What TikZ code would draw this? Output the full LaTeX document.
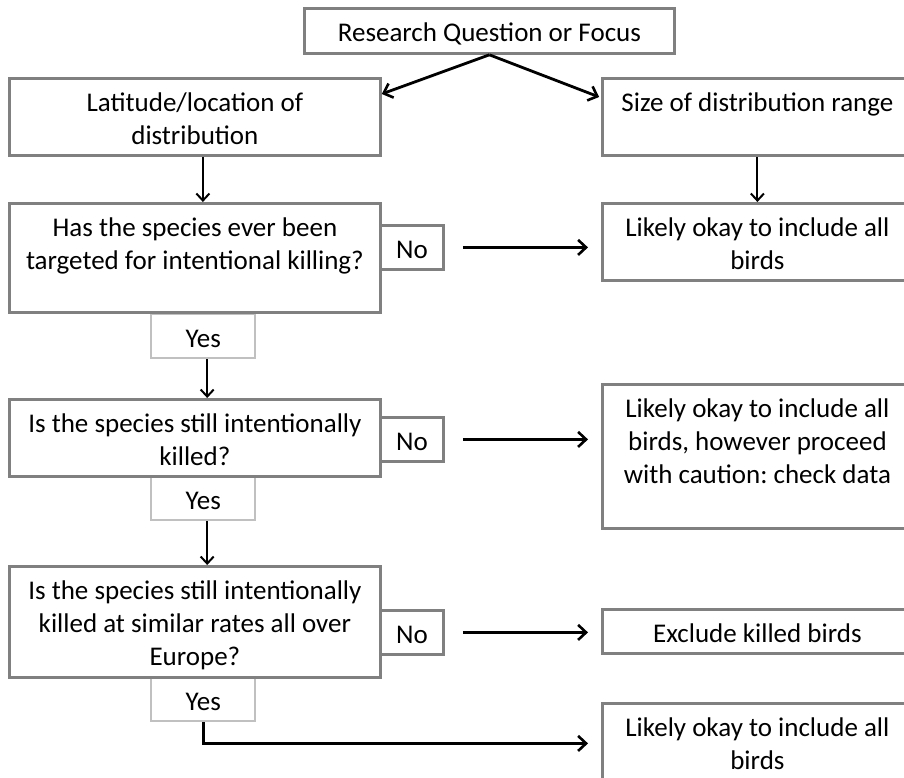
\documentclass[tikz,border=0pt]{standalone}
\usepackage{fontspec}
\setmainfont{Carlito}
\usetikzlibrary{arrows.meta}

\definecolor{boxgray}{RGB}{128,128,128}
\definecolor{yesgray}{RGB}{192,192,192}
% box text: width, height, lines (top aligned)
\newcommand{\boxtext}[3]{\parbox[c][#2][t]{#1}{\centering\frenchspacing\rule{0pt}{33pt}#3\par}}

\begin{document}
\begin{tikzpicture}[x=1pt,y=1pt,yscale=-1,xscale=1,
  box/.style={draw=boxgray,line width=2.8pt,inner sep=0pt,anchor=north west,font=\fontsize{27}{33}\selectfont},
  yesbox/.style={box,draw=yesgray,line width=2.4pt},
  downarrow/.style={line width=2pt,-{Straight Barb[length=7pt,width=13pt,line width=2pt]}},
  noarrow/.style={line width=2.8pt,-{Straight Barb[length=8pt,width=15pt,line width=2.6pt]},shorten <=18pt,shorten >=13pt}]
\useasboundingbox (0,0) rectangle (904,777);

%Label boxes: Yes / No
\node[yesbox] (yes1) at (150,313) {\boxtext{104pt}{44pt}{Yes}};
\node[yesbox] (yes2) at (150,475) {\boxtext{104pt}{44pt}{Yes}};
\node[yesbox] (yes3) at (150,676) {\boxtext{104pt}{44pt}{Yes}};
\node[box] (no1) at (379,224) {\boxtext{63pt}{44pt}{No}};
\node[box] (no2) at (379,416) {\boxtext{63pt}{44pt}{No}};
\node[box] (no3) at (379,609) {\boxtext{63pt}{44pt}{No}};

%Question boxes
\node[box] (focus) at (303,7) {\boxtext{370pt}{45pt}{Research Question or Focus}};
\node[box] (lat) at (8,77) {\boxtext{371pt}{77pt}{Latitude/location of\\distribution}};
\node[box] (has) at (8,202) {\boxtext{371pt}{109pt}{Has the species ever been\\targeted for intentional killing?}};
\node[box] (still) at (8,398) {\boxtext{371pt}{77pt}{Is the species still intentionally\\killed?}};
\node[box] (rates) at (8,565) {\boxtext{371pt}{111pt}{Is the species still intentionally\\killed at similar rates all over\\Europe?}};

%Outcome boxes
\node[box] (size) at (601,77) {\boxtext{310pt}{77pt}{Size of distribution range}};
\node[box] (okay) at (601,202) {\boxtext{310pt}{77pt}{Likely okay to include all\\birds}};
\node[box] (caution) at (601,383) {\boxtext{310pt}{144pt}{Likely okay to include all\\birds, however proceed\\with caution: check data}};
\node[box] (exclude) at (601,608) {\boxtext{310pt}{44pt}{Exclude killed birds}};
\node[box] (okayall) at (601,702) {\boxtext{310pt}{80pt}{Likely okay to include all\\birds}};

%Arrows
\draw[noarrow,shorten <=0pt,shorten >=0pt] (focus.south) -- (lat.7);
\draw[noarrow,shorten <=0pt,shorten >=2pt] (focus.south) -- (size.173);
\draw[downarrow] ([xshift=8pt]lat.south) -- ([xshift=8pt]has.north);
\draw[downarrow] (size.south) -- (okay.north);
\draw[downarrow] ([xshift=4pt]yes1.south) -- ([xshift=4pt]yes1.south |- still.north);
\draw[downarrow] ([xshift=4pt]yes2.south) -- ([xshift=4pt]yes2.south |- rates.north);
\draw[noarrow] (no1.east) -- (no1.east -| okay.west);
\draw[noarrow] (no2.east) -- (no2.east -| caution.west);
\draw[noarrow] (no3.east) -- (no3.east -| exclude.west);
\draw[noarrow,shorten <=0pt] (yes3.south) |- (okayall.west);

\end{tikzpicture}
\end{document}
